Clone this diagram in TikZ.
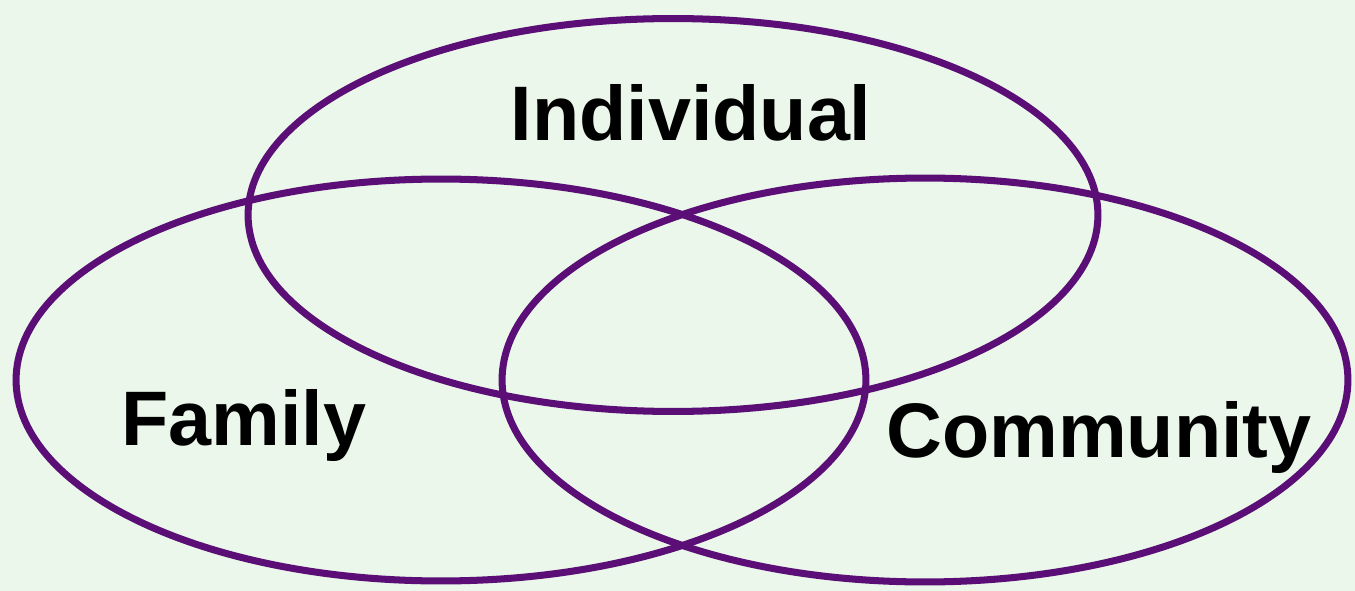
\documentclass[tikz,border=0pt]{standalone}
\usepackage{fontspec}
\setmainfont{Liberation Sans}
\definecolor{bgcol}{HTML}{EBF7EA}
\definecolor{ringcol}{HTML}{5A0E76}
\tikzset{
  ring/.style={draw=ringcol,line width=4pt},
  setlabel/.style={anchor=base,font=\fontsize{44}{50}\selectfont\bfseries,inner sep=0pt}
}
\begin{document}
\begin{tikzpicture}[x=0.02cm,y=-0.02cm]
\fill[bgcol](0,0)rectangle(1355,591);
\useasboundingbox(0,0)rectangle(1355,591);
% the three sets
\draw[ring](673,215)ellipse[x radius=8.5cm,y radius=3.93cm];
\draw[ring](441,380)ellipse[x radius=8.5cm,y radius=4.02cm];
\draw[ring](925,380)ellipse[x radius=8.46cm,y radius=4.04cm];
% labels
\node[setlabel](individual)at(691,141){Individual};
\node[setlabel](family)at(244,445){Family};
\node[setlabel](community)at(1099,457){Community};
\end{tikzpicture}
\end{document}
